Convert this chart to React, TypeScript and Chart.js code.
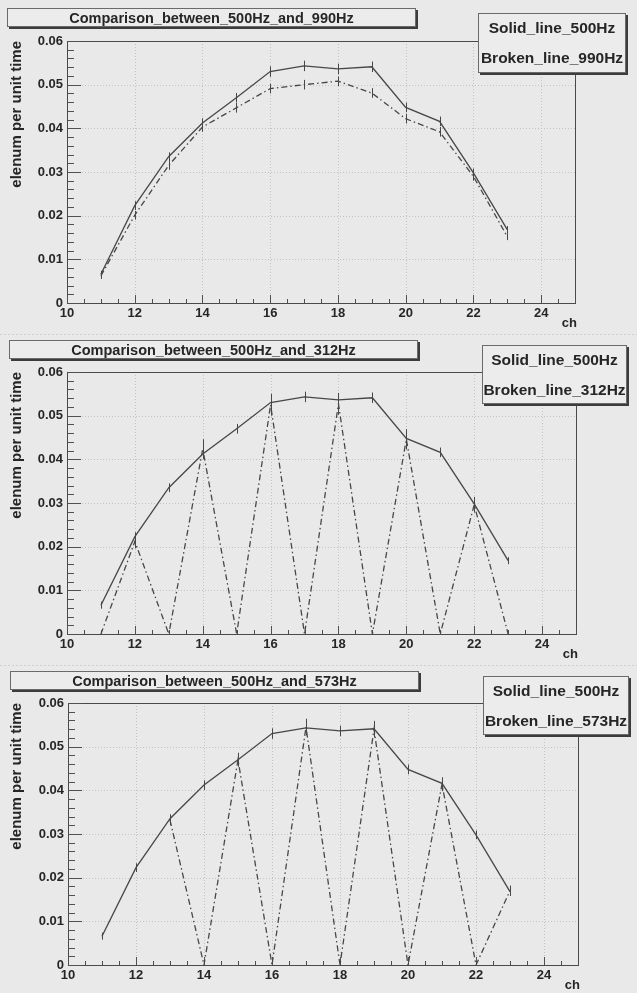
import React, { useEffect, useRef } from "react";
import { Chart, registerables } from "chart.js";

Chart.register(...registerables);

// ---------- data ----------
const channels = [11, 12, 13, 14, 15, 16, 17, 18, 19, 20, 21, 22, 23];

const solid500 = [0.0066, 0.0223, 0.0335, 0.0412, 0.047, 0.053, 0.0543, 0.0536, 0.0541, 0.0448, 0.0416, 0.0298, 0.0168];
const solid500Err = [0.0008, 0.001, 0.001, 0.0011, 0.0011, 0.0012, 0.0012, 0.0012, 0.0012, 0.0011, 0.0011, 0.001, 0.0008];

const broken990 = [0.0062, 0.0201, 0.0315, 0.0403, 0.0447, 0.0491, 0.05, 0.0508, 0.0481, 0.0422, 0.0392, 0.029, 0.0152];
const broken990Err = [0.0007, 0.001, 0.001, 0.0011, 0.0011, 0.0011, 0.0011, 0.0011, 0.0011, 0.0011, 0.0011, 0.001, 0.0008];

const broken312 = [0, 0.0212, 0, 0.0424, 0, 0.0525, 0, 0.0527, 0, 0.0446, 0, 0.0296, 0];
const broken312Err = [0, 0.0016, 0, 0.0022, 0, 0.0025, 0, 0.0025, 0, 0.0023, 0, 0.0018, 0];

const broken573 = [null, null, 0.0332, 0, 0.047, 0, 0.0545, 0, 0.054, 0, 0.0414, 0, 0.017];
const broken573Err = [0, 0, 0.0012, 0, 0.0016, 0, 0.0019, 0, 0.0019, 0, 0.0016, 0, 0.0012];

const xTicks = [10, 12, 14, 16, 18, 20, 22, 24];
const yTicks = [0, 0.01, 0.02, 0.03, 0.04, 0.05, 0.06];

const titles = [
  "Comparison_between_500Hz_and_990Hz",
  "Comparison_between_500Hz_and_312Hz",
  "Comparison_between_500Hz_and_573Hz",
];
const legendSolid = "Solid_line_500Hz";
const legendBroken = ["Broken_line_990Hz", "Broken_line_312Hz", "Broken_line_573Hz"];
const brokenSeries = [broken990, broken312, broken573];
const brokenErrs = [broken990Err, broken312Err, broken573Err];

// ---------- layout ----------
const PANEL_H = 331;
const W = 637;
const FONT = "'Liberation Sans', Arial, sans-serif";
const BG = "#e9e9e9";
const INK = "#262626";
const LINE = "#474747";

type Geo = {
  left: number;
  right: number;
  titleBox: [number, number, number, number];
  legendBox: [number, number, number, number];
};
const geos: Geo[] = [
  { left: 67, right: 575, titleBox: [7, 8, 416, 27], legendBox: [478, 13, 626, 73] },
  { left: 67, right: 576, titleBox: [9, 9, 418, 28], legendBox: [482, 14, 627, 73] },
  { left: 68, right: 578, titleBox: [10, 9, 419, 28], legendBox: [483, 14, 629, 73] },
];

function drawBox(ctx: CanvasRenderingContext2D, b: [number, number, number, number]) {
  const [x0, y0, x1, y1] = b;
  ctx.fillStyle = "#3c3c3c";
  ctx.fillRect(x0 + 2, y0 + 2, x1 - x0, y1 - y0);
  ctx.fillStyle = "#ececec";
  ctx.fillRect(x0, y0, x1 - x0, y1 - y0);
  ctx.strokeStyle = "#6a6a6a";
  ctx.lineWidth = 1;
  ctx.strokeRect(x0 + 0.5, y0 + 0.5, x1 - x0 - 1, y1 - y0 - 1);
}

function makePlugin(idx: number) {
  const g = geos[idx];
  return {
    id: "rootStyle" + idx,
    beforeDraw(chart: any) {
      const { ctx, chartArea: a, scales } = chart;
      const x = scales.x;
      const y = scales.y;
      ctx.save();
      ctx.fillStyle = BG;
      ctx.fillRect(0, 0, chart.width, chart.height);
      if (idx > 0) {
        ctx.strokeStyle = "#cfcfcf";
        ctx.setLineDash([2, 2]);
        ctx.beginPath();
        ctx.moveTo(0, 3.5);
        ctx.lineTo(W, 3.5);
        ctx.stroke();
      }
      // grid
      ctx.strokeStyle = "#c2c2c2";
      ctx.lineWidth = 1;
      ctx.setLineDash([1, 2]);
      for (const v of xTicks) {
        if (v <= x.min) continue;
        const px = Math.round(x.getPixelForValue(v)) + 0.5;
        ctx.beginPath();
        ctx.moveTo(px, a.top);
        ctx.lineTo(px, a.bottom);
        ctx.stroke();
      }
      for (const v of yTicks) {
        if (v <= y.min || v >= y.max) continue;
        const py = Math.round(y.getPixelForValue(v)) + 0.5;
        ctx.beginPath();
        ctx.moveTo(a.left, py);
        ctx.lineTo(a.right, py);
        ctx.stroke();
      }
      ctx.setLineDash([]);
      // frame
      ctx.strokeStyle = "#4a4a4a";
      ctx.lineWidth = 1;
      ctx.strokeRect(Math.round(a.left) + 0.5, Math.round(a.top) + 0.5, Math.round(a.right - a.left), Math.round(a.bottom - a.top));
      // y ticks (inside)
      ctx.strokeStyle = "#505050";
      for (let k = 0; k <= 30; k++) {
        const v = k * 0.002;
        const py = Math.round(y.getPixelForValue(v)) + 0.5;
        const len = k % 5 === 0 ? 14 : 7;
        ctx.beginPath();
        ctx.moveTo(a.left, py);
        ctx.lineTo(a.left + len, py);
        ctx.stroke();
      }
      // x ticks (inside)
      for (let k = 0; k <= 30; k++) {
        const v = 10 + k * 0.5;
        const px = Math.round(x.getPixelForValue(v)) + 0.5;
        const len = k % 4 === 0 ? 8 : 4;
        ctx.beginPath();
        ctx.moveTo(px, a.bottom);
        ctx.lineTo(px, a.bottom - len);
        ctx.stroke();
      }
      ctx.restore();
    },
    afterDatasetsDraw(chart: any) {
      const { ctx, scales } = chart;
      const x = scales.x;
      const y = scales.y;
      ctx.save();
      ctx.strokeStyle = LINE;
      ctx.lineWidth = 1;
      const sets: [Array<number | null>, number[]][] = [
        [solid500, solid500Err],
        [brokenSeries[idx], brokenErrs[idx]],
      ];
      for (const [vals, errs] of sets) {
        vals.forEach((v, i) => {
          if (v === null || !errs[i]) return;
          const px = Math.round(x.getPixelForValue(channels[i])) + 0.5;
          ctx.beginPath();
          ctx.moveTo(px, y.getPixelForValue(v - errs[i]));
          ctx.lineTo(px, y.getPixelForValue(v + errs[i]));
          ctx.stroke();
        });
      }
      ctx.restore();
    },
    afterDraw(chart: any) {
      const { ctx, chartArea: a } = chart;
      ctx.save();
      // axis titles
      ctx.fillStyle = INK;
      ctx.font = `bold 15px ${FONT}`;
      ctx.save();
      ctx.translate(20.5, a.top);
      ctx.rotate(-Math.PI / 2);
      ctx.textAlign = "right";
      ctx.textBaseline = "alphabetic";
      ctx.fillText("elenum per unit time", 0, 0);
      ctx.restore();
      ctx.font = `bold 13px ${FONT}`;
      ctx.textAlign = "right";
      ctx.textBaseline = "middle";
      ctx.fillText("ch", a.right + 2, a.bottom + 20);
      // title box
      drawBox(ctx, g.titleBox);
      ctx.fillStyle = INK;
      ctx.font = `bold 14.5px ${FONT}`;
      ctx.textAlign = "center";
      ctx.textBaseline = "middle";
      const tb = g.titleBox;
      ctx.fillText(titles[idx], (tb[0] + tb[2]) / 2, (tb[1] + tb[3]) / 2 + 1);
      // legend box
      drawBox(ctx, g.legendBox);
      const lb = g.legendBox;
      ctx.fillStyle = INK;
      ctx.font = `bold 15.5px ${FONT}`;
      const cx = (lb[0] + lb[2]) / 2;
      const h = lb[3] - lb[1];
      ctx.fillText(legendSolid, cx, lb[1] + h * 0.25 + 1);
      ctx.fillText(legendBroken[idx], cx, lb[1] + h * 0.75 + 1);
      ctx.restore();
    },
  };
}

function Panel({ idx }: { idx: number }) {
  const ref = useRef<HTMLCanvasElement | null>(null);
  useEffect(() => {
    const canvas = ref.current;
    if (!canvas) return;
    const g = geos[idx];
    const chart = new Chart(canvas, {
      type: "line",
      data: {
        datasets: [
          {
            label: legendSolid,
            data: channels.map((c, i) => ({ x: c, y: solid500[i] })),
            borderColor: LINE,
            borderWidth: 1.3,
            pointRadius: 0,
            tension: 0,
            fill: false,
          },
          {
            label: legendBroken[idx],
            data: channels.map((c, i) => ({ x: c, y: brokenSeries[idx][i] })),
            borderColor: LINE,
            borderWidth: 1.3,
            borderDash: [6, 3, 1.5, 3],
            pointRadius: 0,
            tension: 0,
            fill: false,
            spanGaps: false,
          },
        ],
      },
      options: {
        responsive: false,
        animation: false,
        devicePixelRatio: 1,
        layout: { padding: { left: 0, top: 41, right: W - g.right, bottom: 0 } },
        plugins: { legend: { display: false }, tooltip: { enabled: false }, title: { display: false } },
        scales: {
          x: {
            type: "linear",
            min: 10,
            max: 25,
            afterBuildTicks: (s: any) => {
              s.ticks = xTicks.map((v) => ({ value: v }));
            },
            afterFit: (s: any) => {
              s.height = 28;
            },
            ticks: {
              autoSkip: false,
              maxRotation: 0,
              padding: 3,
              color: INK,
              font: { family: FONT, size: 13, weight: "bold" },
              callback: (v: any) => String(v),
            },
            grid: { display: false, drawTicks: false },
            border: { display: false },
          },
          y: {
            type: "linear",
            min: 0,
            max: 0.06,
            afterBuildTicks: (s: any) => {
              s.ticks = yTicks.map((v) => ({ value: v }));
            },
            afterFit: (s: any) => {
              s.width = g.left;
            },
            ticks: {
              padding: 4,
              color: INK,
              font: { family: FONT, size: 13, weight: "bold" },
              callback: (v: any) => (Number(v) === 0 ? "0" : Number(v).toFixed(2)),
            },
            grid: { display: false, drawTicks: false },
            border: { display: false },
          },
        },
      },
      plugins: [makePlugin(idx)],
    } as any);
    return () => chart.destroy();
  }, [idx]);
  return (
    <canvas
      ref={ref}
      width={W}
      height={PANEL_H}
      style={{ position: "absolute", left: 0, top: idx * PANEL_H, width: W, height: PANEL_H, display: "block" }}
    />
  );
}

export default function App() {
  return (
    <div style={{ position: "absolute", left: 0, top: 0, width: W, height: 993, background: BG, overflow: "hidden" }}>
      <Panel idx={0} />
      <Panel idx={1} />
      <Panel idx={2} />
    </div>
  );
}
